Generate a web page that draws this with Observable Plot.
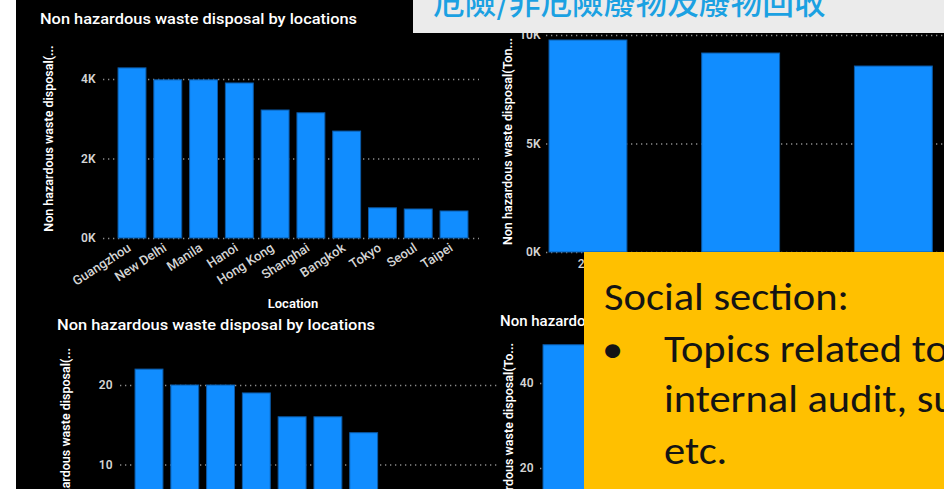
<!DOCTYPE html>
<html>
<head>
<meta charset="utf-8">
<script src="https://cdn.jsdelivr.net/npm/d3@7"></script>
<script src="https://cdn.jsdelivr.net/npm/@observablehq/plot@0.6"></script>
<style>
  html, body { margin: 0; padding: 0; background: #fff; overflow: hidden; }
  #page { position: relative; width: 944px; height: 489px; overflow: hidden; background: #fff; }
  #dark { position: absolute; left: 16px; top: 0; width: 928px; height: 489px; background: #000; }
  #page svg { position: absolute; left: 0; top: 0; }
</style>
</head>
<body>
<div id="page"><div id="dark"></div></div>
<script>
const W = 944, H = 489;

// Top-left chart: Non hazardous waste disposal by locations
const locations = ["Guangzhou", "New Delhi", "Manila", "Hanoi", "Hong Kong", "Shanghai", "Bangkok", "Tokyo", "Seoul", "Taipei"];
const disposalByLocation = [4280, 3980, 3980, 3900, 3220, 3150, 2690, 760, 730, 680];
const locationTicks = [0, 2000, 4000];

// Bottom-left chart (its category labels fall below the crop)
const locations2 = ["Guangzhou", "New Delhi", "Manila", "Hanoi", "Hong Kong", "Shanghai", "Bangkok", "Tokyo", "Seoul", "Taipei"];
const disposalByLocation2 = [22, 20, 20, 19, 16, 16, 14, 4, 4, 3];
const locationTicks2 = [0, 10, 20];

// Top-right chart: by year
const years = ["2020", "2021", "2022"];
const disposalByYear = [9770, 9170, 8570];
const yearTicks = [0, 5000, 10000];

// Bottom-right chart: by year
const years2 = ["2020", "2021", "2022"];
const disposalByYear2 = [49, 45, 41];
const yearTicks2 = [0, 20, 40];

const kFormat = d => d / 1000 + "K";
const BLUE = "#118DFF";
const page = document.getElementById("page");

function barChart(o) {
  const data = o.cats.map((c, i) => ({cat: c, val: o.vals[i]}));
  const marks = [
    Plot.gridY(o.ticks, {stroke: "#8c8c8c", strokeOpacity: 1, strokeWidth: 1.3, strokeDasharray: "1.3,3.7"}),
    Plot.barY(data, {x: "cat", y: "val", fill: BLUE, stroke: "#0b5aa8", strokeWidth: 1}),
    Plot.axisY(o.ticks, {tickSize: 0, tickPadding: o.tickPad, tickFormat: o.fmt, label: null,
      fill: "#d4d4d4", fontWeight: 600, fontSize: 12})
  ];
  if (o.xAxis) marks.push(Plot.axisX({tickSize: 0, tickPadding: o.xPad, tickRotate: o.rotate, label: null,
      fill: "#d4d4d4", fontWeight: 500, fontSize: o.xFont, dx: o.xdx || 0, dy: o.xdy || 0}));
  const xScale = {domain: o.cats, range: o.xRange, paddingInner: o.pi, paddingOuter: o.po, align: 0.5, round: false};
  if (!o.xAxis) xScale.axis = null;
  return Plot.plot({
    width: W, height: H,
    marginLeft: o.gridFrom, marginRight: W - o.gridTo,
    marginTop: o.yRange[1], marginBottom: Math.max(0, H - o.yRange[0]),
    style: {background: "transparent", color: "#d4d4d4", fontFamily: "Roboto, sans-serif", overflow: "hidden"},
    x: xScale,
    y: {domain: [0, o.ticks[o.ticks.length - 1]], range: o.yRange},
    marks
  });
}

page.appendChild(barChart({cats: locations, vals: disposalByLocation, ticks: locationTicks, fmt: kFormat,
  gridFrom: 103, gridTo: 479, yRange: [238, 79], xRange: [114.1, 471.9], pi: 0.22, po: 0.11,
  tickPad: 8, xAxis: true, rotate: -33, xPad: 7, xFont: 13, xdx: -3, xdy: 1}));
page.appendChild(barChart({cats: locations2, vals: disposalByLocation2, ticks: locationTicks2, fmt: d => d,
  gridFrom: 120, gridTo: 497, yRange: [544, 385], xRange: [131.1, 488.9], pi: 0.22, po: 0.11,
  tickPad: 8, xAxis: false}));
page.appendChild(barChart({cats: years, vals: disposalByYear, ticks: yearTicks, fmt: kFormat,
  gridFrom: 546, gridTo: 944, yRange: [252, 35], xRange: [511.6, 969.7], pi: 0.49, po: 0.245,
  tickPad: 6, xAxis: true, rotate: 0, xPad: 7, xFont: 12, xdx: 3}));
page.appendChild(barChart({cats: years2, vals: disposalByYear2, ticks: yearTicks2, fmt: d => d,
  gridFrom: 540, gridTo: 944, yRange: [553, 383], xRange: [505.6, 963.7], pi: 0.49, po: 0.245,
  tickPad: 7, xAxis: false}));

// Titles, axis titles and slide overlays
const deco = d3.create("svg").attr("width", W).attr("height", H);
function text(x, y, s, a) {
  const t = deco.append("text").attr("x", x).attr("y", y).text(s);
  for (const k in a) t.attr(k, a[k]);
  return t;
}
const titleStyle = {fill: "#ffffff", "font-family": "Roboto, sans-serif", "font-size": 15, "font-weight": 500};
text(40, 24, "Non hazardous waste disposal by locations", {...titleStyle, textLength: 317, lengthAdjust: "spacingAndGlyphs"});
text(57, 330, "Non hazardous waste disposal by locations", {...titleStyle, textLength: 318, lengthAdjust: "spacingAndGlyphs"});
text(500, 326, "Non hazardous waste disposal by years", titleStyle);

const axTitle = {fill: "#ffffff", "font-family": "Roboto, sans-serif", "font-size": 12.5, "font-weight": 600};
function yTitle(x, y, s, anchor) {
  return deco.append("text").attr("transform", `translate(${x},${y}) rotate(-90)`)
    .attr("text-anchor", anchor).text(s).call(t => { for (const k in axTitle) t.attr(k, axTitle[k]); });
}
yTitle(53, 138.5, "Non hazardous waste disposal(...", "middle");
yTitle(70, 348, "Non hazardous waste disposal(...", "end");
yTitle(512, 141.5, "Non hazardous waste disposal(Ton...", "middle");
yTitle(513, 343, "Non hazardous waste disposal(To...", "end");
text(293, 308, "Location", {...axTitle, "font-size": 13, "text-anchor": "middle"});

// grey heading strip
deco.append("rect").attr("x", 413).attr("y", 0).attr("width", W - 413).attr("height", 33).attr("fill", "#ebebeb");
text(433, 14, "危險/非危險廢物及廢物回收", {fill: "#1ba1e2", "font-family": "'Noto Sans CJK TC', sans-serif", "font-size": 31.7, "font-weight": 500});

// yellow note box
deco.append("rect").attr("x", 584).attr("y", 252).attr("width", W - 584).attr("height", H - 252).attr("fill", "#ffc000");
const note = deco.append("g").attr("fill", "#141414").attr("font-family", "Carlito, Calibri, Lato, sans-serif").attr("font-size", 38);
const l0 = note.append("text").attr("x", 604).attr("y", 310).text("Social section:");
note.append("text").attr("x", 602).attr("y", 362).text("•");
note.append("text").attr("x", 664).attr("y", 362).text("Topics related to labour practices,");
note.append("text").attr("x", 664).attr("y", 412).text("internal audit, supply chain,");
note.append("text").attr("x", 664).attr("y", 464).text("etc.");
page.appendChild(deco.node());
// match the narrower slide typeface horizontally
const sx = 245 / l0.node().getComputedTextLength();
note.selectAll("text").each(function () {
  const x = +this.getAttribute("x");
  this.setAttribute("transform", `translate(${x},0) scale(${sx},1) translate(${-x},0)`);
});
</script>
</body>
</html>
